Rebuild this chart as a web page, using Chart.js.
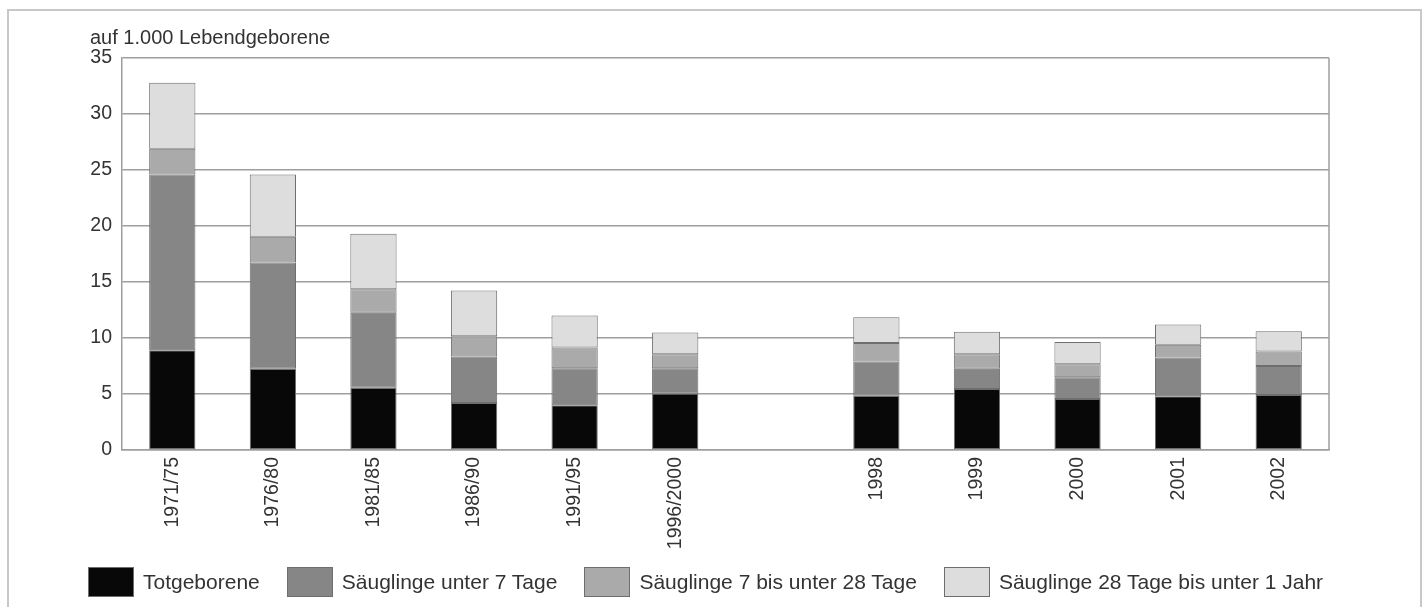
<!DOCTYPE html>
<html lang="de">
<head>
<meta charset="utf-8">
<title>Totgeborene und Säuglingssterblichkeit</title>
<script src="https://cdn.jsdelivr.net/npm/chart.js@4.4.1/dist/chart.umd.min.js"></script>
<style>
  html, body { margin: 0; padding: 0; background: #fff; }
  #wrap { position: relative; width: 1427px; height: 607px; overflow: hidden; }
  #frame { position: absolute; left: 7px; top: 9px; width: 1411px; height: 640px; border: 2px solid #c8c8c8; pointer-events: none; }
  canvas { position: absolute; left: 0; top: 0; }
  #legend { position: absolute; left: 88px; top: 567px; margin: 0; padding: 0; list-style: none;
            display: flex; gap: 27px; font: 21px "Liberation Sans", Arial, Helvetica, sans-serif; color: #333; }
  #legend li { display: flex; align-items: center; height: 30px; white-space: nowrap; }
  #legend .box { display: inline-block; width: 44px; height: 28px; border: 1px solid #6e6e6e; margin-right: 9px; }
</style>
</head>
<body>
<div id="wrap">
  <canvas id="chart" width="1427" height="607"></canvas>
  <ul id="legend"></ul>
  <div id="frame"></div>
</div>
<script>
// categories, the empty one is the gap between the 5-year means and the single years
let categories = ['1971/75', '1976/80', '1981/85', '1986/90', '1991/95', '1996/2000', '', '1998', '1999', '2000', '2001', '2002'];

// values per 1,000 live births
let totgeborene    = [8.9, 7.25, 5.55, 4.2, 4.0, 5.05, null, 4.85, 5.45, 4.55, 4.8, 4.9];
let unter7Tage     = [15.7, 9.5, 6.7, 4.15, 3.3, 2.25, null, 3.05, 1.8, 1.95, 3.45, 2.6];
let tage7bis28     = [2.3, 2.3, 2.1, 1.8, 1.85, 1.25, null, 1.65, 1.3, 1.15, 1.15, 1.3];
let tage28bis1Jahr = [5.9, 5.55, 4.95, 4.1, 2.85, 1.95, null, 2.3, 2.0, 2.0, 1.8, 1.8];

let seriesNames = ['Totgeborene', 'Säuglinge unter 7 Tage', 'Säuglinge 7 bis unter 28 Tage', 'Säuglinge 28 Tage bis unter 1 Jahr'];
let yTicks = [0, 5, 10, 15, 20, 25, 30, 35];
let yUnit = 'auf 1.000 Lebendgeborene';

let fills = ['#080808', '#868686', '#aaaaaa', '#dddddd'];
let gridColor = '#9e9e9e';
let textColor = '#333333';
let fontFamily = '"Liberation Sans", Arial, Helvetica, sans-serif';

// unit text above the y axis and the right edge of the plot box
const extras = {
  id: 'extras',
  afterDraw(chart) {
    const ctx = chart.ctx;
    const area = chart.chartArea;
    ctx.save();
    ctx.strokeStyle = gridColor;
    ctx.lineWidth = 1.5;
    ctx.beginPath();
    ctx.moveTo(area.right, area.top);
    ctx.lineTo(area.right, area.bottom);
    ctx.stroke();
    ctx.fillStyle = textColor;
    ctx.font = '20px ' + fontFamily;
    ctx.textAlign = 'left';
    ctx.textBaseline = 'middle';
    ctx.fillText(yUnit, 90, 38);
    ctx.restore();
  }
};

// html legend below the chart, built from the datasets
const htmlLegend = {
  id: 'htmlLegend',
  afterUpdate(chart) {
    const ul = document.getElementById('legend');
    ul.innerHTML = '';
    chart.options.plugins.legend.labels.generateLabels(chart).forEach(item => {
      const li = document.createElement('li');
      const box = document.createElement('span');
      box.className = 'box';
      box.style.background = item.fillStyle;
      li.appendChild(box);
      li.appendChild(document.createTextNode(item.text));
      ul.appendChild(li);
    });
  }
};

let allSeries = [totgeborene, unter7Tage, tage7bis28, tage28bis1Jahr];
let datasets = allSeries.map((values, i) => ({
  label: seriesNames[i],
  data: values,
  backgroundColor: fills[i],
  borderColor: '#6e6e6e',
  borderWidth: 1,
  borderSkipped: false,
  categoryPercentage: 1,
  barPercentage: 0.46
}));

new Chart(document.getElementById('chart').getContext('2d'), {
  type: 'bar',
  data: { labels: categories, datasets: datasets },
  options: {
    responsive: false,
    animation: false,
    layout: { padding: { left: 0, right: 98, top: 58, bottom: 52 } },
    plugins: {
      tooltip: { enabled: false },
      legend: { display: false }
    },
    scales: {
      x: {
        stacked: true,
        grid: { display: false, drawTicks: false },
        border: { display: true, color: gridColor, width: 1.5 },
        ticks: {
          autoSkip: false,
          minRotation: 90,
          maxRotation: 90,
          padding: 7,
          color: textColor,
          font: { family: fontFamily, size: 19.5 }
        },
        afterFit(scale) { scale.height = 105; }
      },
      y: {
        stacked: true,
        min: 0,
        max: 35,
        afterBuildTicks(scale) { scale.ticks = yTicks.map(v => ({ value: v })); },
        grid: { color: gridColor, lineWidth: 1.5, drawTicks: false },
        border: { display: true, color: gridColor, width: 1.5 },
        ticks: {
          padding: 10,
          color: textColor,
          font: { family: fontFamily, size: 19.5 }
        },
        afterFit(scale) { scale.width = 122; }
      }
    }
  },
  plugins: [extras, htmlLegend]
});
</script>
</body>
</html>
